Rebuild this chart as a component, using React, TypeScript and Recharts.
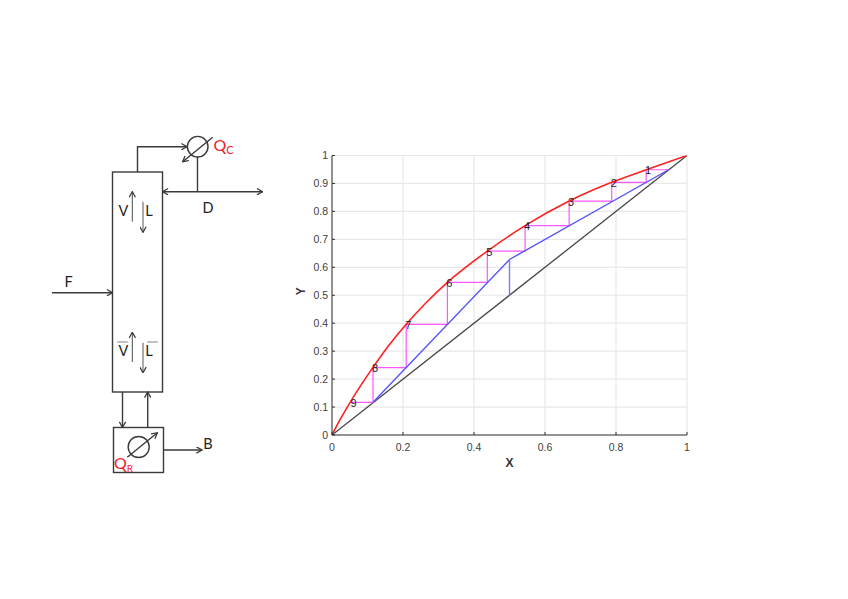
import React from "react";
import { ComposedChart, Line, XAxis, YAxis, CartesianGrid, LabelList, Label } from "recharts";

const ticks = [0, 0.2, 0.4, 0.6, 0.8, 1];
const yTicks = [0, 0.1, 0.2, 0.3, 0.4, 0.5, 0.6, 0.7, 0.8, 0.9, 1];
const equilibrium = [
  { x: 0, y: 0 }, { x: 0.025, y: 0.06 }, { x: 0.055, y: 0.125 }, { x: 0.115, y: 0.241 },
  { x: 0.16, y: 0.32 }, { x: 0.209, y: 0.396 }, { x: 0.265, y: 0.473 }, { x: 0.325, y: 0.546 },
  { x: 0.4375, y: 0.658 }, { x: 0.544, y: 0.749 }, { x: 0.668, y: 0.837 }, { x: 0.788, y: 0.904 },
  { x: 0.885, y: 0.949 }, { x: 1, y: 1 },
];
const diagonal = [{ x: 0, y: 0 }, { x: 1, y: 1 }];
const operating = [{ x: 0.1155, y: 0.117 }, { x: 0.5, y: 0.628 }, { x: 0.948, y: 0.949 }];
const feedLine = [{ x: 0.5, y: 0.5 }, { x: 0.5, y: 0.628 }];
const stairs = [
  { x: 0.948, y: 0.949 }, { x: 0.885, y: 0.949 }, { x: 0.885, y: 0.904 }, { x: 0.788, y: 0.904 },
  { x: 0.788, y: 0.837 }, { x: 0.668, y: 0.837 }, { x: 0.668, y: 0.749 }, { x: 0.544, y: 0.749 },
  { x: 0.544, y: 0.658 }, { x: 0.4375, y: 0.658 }, { x: 0.4375, y: 0.546 }, { x: 0.325, y: 0.546 },
  { x: 0.325, y: 0.396 }, { x: 0.209, y: 0.396 }, { x: 0.209, y: 0.241 }, { x: 0.1155, y: 0.241 },
  { x: 0.1155, y: 0.117 }, { x: 0.055, y: 0.117 },
];
const stages = [
  { x: 0.885, y: 0.949, n: "1" }, { x: 0.788, y: 0.904, n: "2" }, { x: 0.668, y: 0.837, n: "3" },
  { x: 0.544, y: 0.749, n: "4" }, { x: 0.4375, y: 0.658, n: "5" }, { x: 0.325, y: 0.546, n: "6" },
  { x: 0.209, y: 0.396, n: "7" }, { x: 0.1155, y: 0.241, n: "8" }, { x: 0.055, y: 0.117, n: "9" },
];

const ink = "#3a3a3a";
const sans = "Lato, 'Open Sans', sans-serif";
const arial = "'Liberation Sans', Arial, sans-serif";

function Diagram() {
  return (
    <svg width={300} height={599} style={{ position: "absolute", left: 0, top: 0 }}>
      <defs>
        <marker id="op" viewBox="0 0 10 10" refX="9" refY="5" markerWidth="7" markerHeight="7" markerUnits="userSpaceOnUse" orient="auto-start-reverse">
          <path d="M1 0.5 L9 5 L1 9.5" fill="none" stroke={ink} strokeWidth={1.8} />
        </marker>
      </defs>
      <g fill="none" stroke={ink} strokeWidth={1.4}>
        <rect x={112.5} y={172} width={50} height={220} />
        <rect x={113.5} y={427.5} width={50} height={45} />
        <circle cx={197.7} cy={146.7} r={10.3} />
        <circle cx={138.7} cy={447} r={10.5} />
        <path d="M137.5 172 V146.7 H187" markerEnd="url(#op)" />
        <path d="M212.7 137.3 L182.7 161.7" markerEnd="url(#op)" />
        <path d="M197.5 157 V191.7" />
        <path d="M162.5 191.7 H262.5" markerStart="url(#op)" markerEnd="url(#op)" />
        <path d="M52 292.7 H112.5" markerEnd="url(#op)" />
        <path d="M132.3 221.7 V191.7" strokeWidth={0.9} markerEnd="url(#op)" />
        <path d="M143 201.7 V232.3" strokeWidth={1.1} stroke="#666" markerEnd="url(#op)" />
        <path d="M132.3 362 V332.3" strokeWidth={0.9} markerEnd="url(#op)" />
        <path d="M143 342.7 V372.7" strokeWidth={1.1} stroke="#666" markerEnd="url(#op)" />
        <path d="M122.5 392 V427.5" markerEnd="url(#op)" />
        <path d="M147.7 427.5 V392" markerEnd="url(#op)" />
        <path d="M127.3 457.3 L157.3 432.7" markerEnd="url(#op)" />
        <path d="M163.5 450 H202" markerEnd="url(#op)" />
        <path d="M117.3 342 H127.7 M147.3 342 H157.7" stroke="#aaa" />
      </g>
      <g fontFamily={sans} fontSize={14.5} fill="#222" textAnchor="middle" dominantBaseline="central">
        <text x={123.5} y={210.5}>V</text>
        <text x={149} y={210.5}>L</text>
        <text x={123.5} y={350.5}>V</text>
        <text x={149} y={350.5}>L</text>
        <text x={68.7} y={281}>F</text>
        <text x={208} y={207.5}>D</text>
        <text x={208} y={443.5}>B</text>
      </g>
      <g fontFamily={sans} fill="#f0202a">
        <text x={213.5} y={151} fontSize={16}>Q<tspan fontSize={11} dy={3}>C</tspan></text>
        <text x={114} y={469} fontSize={16}>Q<tspan fontSize={10} dy={3}>R</tspan></text>
      </g>
    </svg>
  );
}

const tickStyle = { fontSize: 10.5, fill: "#404040", fontFamily: arial };
const titleStyle = { fontSize: 12, fontWeight: 700, fill: "#333", fontFamily: arial };

export default function App() {
  return (
    <div style={{ position: "absolute", left: 0, top: 0, width: 848, height: 599, background: "#fff" }}>
      <Diagram />
      <div style={{ position: "absolute", left: 0, top: 0 }}>
        <ComposedChart width={848} height={599} margin={{ left: 292, right: 161, top: 155.5, bottom: 124 }}>
          <CartesianGrid stroke="#e8e8e8" strokeWidth={1.2} horizontalValues={yTicks} verticalValues={ticks} />
          <XAxis type="number" dataKey="x" domain={[0, 1]} ticks={ticks} interval={0} height={40} tickSize={-3} tickMargin={12}
            tick={tickStyle} stroke="#333" allowDataOverflow>
            <Label value="X" position="insideBottom" offset={8} style={titleStyle} />
          </XAxis>
          <YAxis type="number" domain={[0, 1]} ticks={yTicks} interval={0} width={40} tickSize={-3} tickMargin={7}
            tick={tickStyle} stroke="#333" allowDataOverflow>
            <Label value="Y" angle={-90} position="insideLeft" offset={9} style={titleStyle} />
          </YAxis>
          <Line data={diagonal} dataKey="y" type="linear" stroke="#444" strokeWidth={1.3} dot={false} isAnimationActive={false} />
          <Line data={stairs} dataKey="y" type="linear" stroke="#ff55ff" strokeWidth={1.2} dot={false} isAnimationActive={false} />
          <Line data={operating} dataKey="y" type="linear" stroke="#5555ff" strokeWidth={1.4} dot={false} isAnimationActive={false} />
          <Line data={feedLine} dataKey="y" type="linear" stroke="#7a7aff" strokeWidth={1.4} dot={false} isAnimationActive={false} />
          <Line data={equilibrium} dataKey="y" type="monotone" stroke="#ff2020" strokeWidth={1.6} dot={false} isAnimationActive={false} />
          <Line data={stages} dataKey="y" stroke="none" dot={false} isAnimationActive={false}>
            <LabelList dataKey="n" position="center" offset={0} content={(p: any) => (
              <text x={p.x + 2} y={p.y + 0.5} textAnchor="middle" dominantBaseline="central" fontSize={11} fill="#222" fontFamily={arial}>{p.value}</text>
            )} />
          </Line>
        </ComposedChart>
      </div>
    </div>
  );
}
